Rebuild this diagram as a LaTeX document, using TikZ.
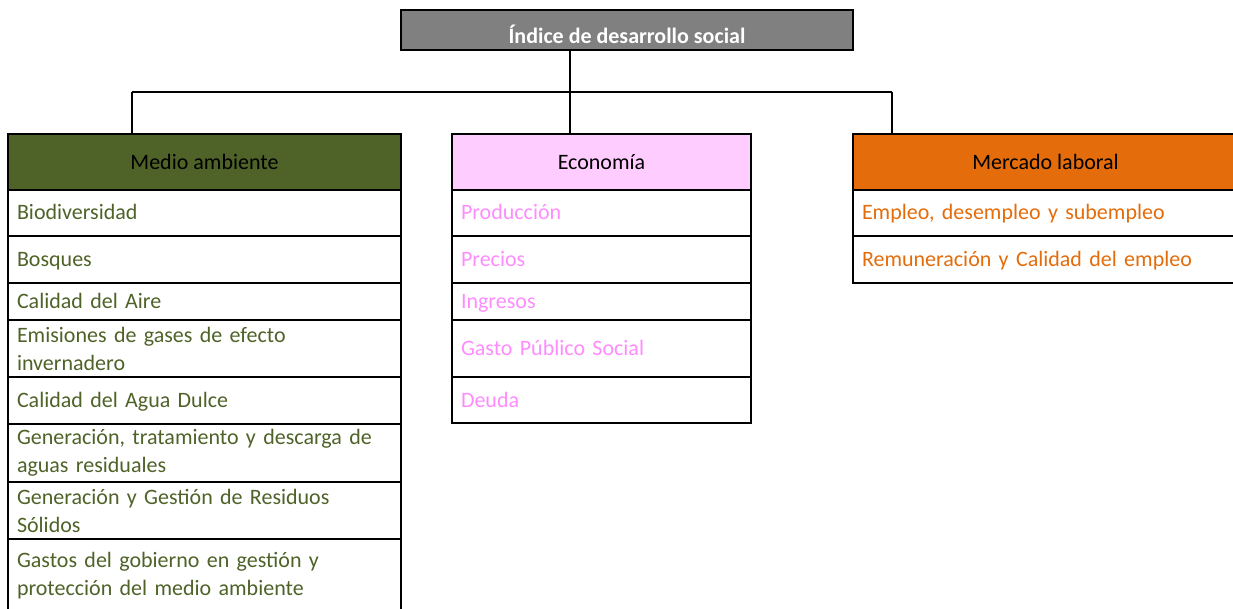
\documentclass[tikz,border=0pt]{standalone}
\usepackage{fontspec}
\setmainfont{Carlito}
\usetikzlibrary{positioning}
\definecolor{titlegray}{HTML}{808080}
\definecolor{envgreen}{HTML}{4F6228}
\definecolor{econfill}{HTML}{FFCCFF}
\definecolor{econtext}{HTML}{FF8CFF}
\definecolor{laborange}{HTML}{E46C0A}
\tikzstyle{cell} = [rectangle, draw, line width=2pt, outer sep=0pt,
    font=\fontsize{22}{28}\selectfont]
\tikzstyle{head} = [cell, minimum height=56pt, text=black]
\tikzstyle{item} = [cell, inner xsep=9pt, inner ysep=0pt, align=left]
\tikzstyle{oneline} = [text height=19pt, text depth=5pt]
\tikzstyle{envitem} = [item, text width=375pt, text=envgreen]
\tikzstyle{econitem} = [item, oneline, text width=281pt, text=econtext]
\tikzstyle{labitem} = [item, oneline, text width=367pt, text=laborange]
\tikzstyle{link} = [draw, line width=2pt]

\begin{document}
\begin{tikzpicture}[x=1pt, y=-1pt]
		\clip (0,0) rectangle (1233,609);
		% title
		\node [cell, fill=titlegray, text=white, font=\bfseries\fontsize{22}{28}\selectfont,
			minimum width=452pt, minimum height=40pt, text height=28pt, anchor=north west] (ids) at (401,10) {Índice de desarrollo social};
		
		% medio ambiente
		\node [head, fill=envgreen, minimum width=393pt, anchor=north west] (env) at (8,134) {Medio ambiente};
		\node [envitem, oneline, minimum height=46pt, below=0pt of env] (env1) {Biodiversidad};
		\node [envitem, oneline, minimum height=47pt, below=0pt of env1] (env2) {Bosques};
		\node [envitem, oneline, minimum height=37pt, below=0pt of env2] (env3) {Calidad del Aire};
		\node [envitem, minimum height=57pt, below=0pt of env3] (env4) {Emisiones de gases de efecto\\invernadero};
		\node [envitem, oneline, minimum height=47pt, below=0pt of env4] (env5) {Calidad del Agua Dulce};
		\node [envitem, minimum height=58pt, below=0pt of env5] (env6) {Generación, tratamiento y descarga de\\aguas residuales};
		\node [envitem, minimum height=57pt, below=0pt of env6] (env7) {Generación y Gestión de Residuos\\Sólidos};
		\node [envitem, minimum height=74pt, below=0pt of env7] (env8) {Gastos del gobierno en gestión y\\protección del medio ambiente};
		
		% economia
		\node [head, fill=econfill, minimum width=299pt, anchor=north west] (econ) at (452,134) {Economía};
		\node [econitem, minimum height=46pt, below=0pt of econ] (econ1) {Producción};
		\node [econitem, minimum height=47pt, below=0pt of econ1] (econ2) {Precios};
		\node [econitem, minimum height=37pt, below=0pt of econ2] (econ3) {Ingresos};
		\node [econitem, minimum height=57pt, below=0pt of econ3] (econ4) {Gasto Público Social};
		\node [econitem, minimum height=46pt, below=0pt of econ4] (econ5) {Deuda};
		
		% mercado laboral
		\node [head, fill=laborange, minimum width=385pt, anchor=north west] (lab) at (853,134) {Mercado laboral};
		\node [labitem, minimum height=46pt, below=0pt of lab] (lab1) {Empleo, desempleo y subempleo};
		\node [labitem, minimum height=47pt, below=0pt of lab1] (lab2) {Remuneración y Calidad del empleo};
		
		% connectors
		\coordinate (jleft) at (132,92);
		\coordinate (jmid) at (570,92);
		\coordinate (jright) at (892,92);
		\path [link] (ids.south -| jmid) -- (jmid);
		\path [link] (jleft) -- (jright);
		\path [link] (jleft) -- (jleft |- env.north);
		\path [link] (jmid) -- (jmid |- econ.north);
		\path [link] (jright) -- (jright |- lab.north);
	\end{tikzpicture}
\end{document}
